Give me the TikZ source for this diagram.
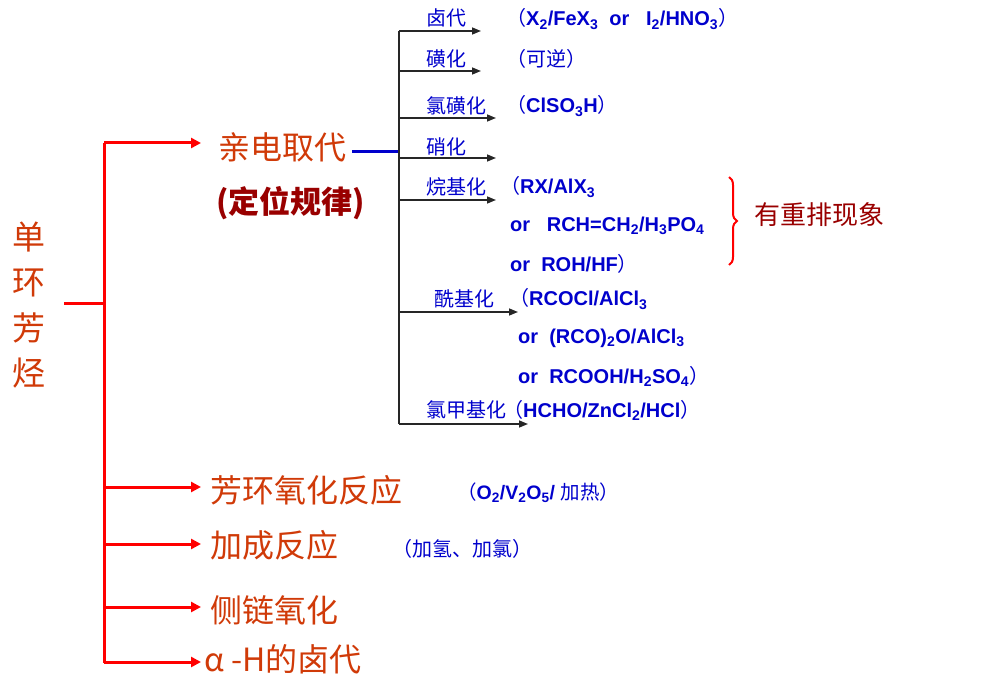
\documentclass[tikz,border=0pt]{standalone}
\usepackage{fontspec}
\setmainfont{Liberation Sans}
\newfontfamily\cjk{Noto Sans CJK SC}
\usetikzlibrary{arrows.meta,decorations.pathreplacing}
\definecolor{rtxt}{HTML}{D03A08}
\definecolor{dred}{HTML}{990000}
\definecolor{bl}{HTML}{0000CC}
\newcommand\zlp{{\cjk\mdseries （}}
\newcommand\zrp{{\cjk\mdseries ）}}
\newcommand\sbs[1]{\textsubscript{#1}}
\begin{document}
\begin{tikzpicture}[x=1pt,y=-1pt,
 redline/.style={draw=red, line width=3pt},
 redarr/.style={draw=red, line width=3pt, -{Triangle[length=10pt,width=10pt]}},
 blkline/.style={draw=black!85, line width=1.5pt},
 blkarr/.style={draw=black!85, line width=1.5pt, -{Triangle[length=9pt,width=7pt]}},
 big/.style={text=rtxt, font=\cjk\fontsize{32}{32}\selectfont, anchor=west, inner sep=0pt},
 lab/.style={text=bl, font=\cjk\fontsize{20}{20}\selectfont, anchor=west, inner sep=0pt},
 form/.style={text=bl, font=\bfseries\fontsize{20}{20}\selectfont, anchor=west, inner sep=0pt},
]
\useasboundingbox (0,0) rectangle (985,682);

% root
\node[text=rtxt, font=\cjk\fontsize{33}{45.3}\selectfont, align=center, inner sep=0pt] (root) at (29,305) {单\\环\\芳\\烃};
\coordinate (s0) at (64,303);
\coordinate (t0) at (104,303);
\coordinate (tT) at (104,143);
\coordinate (tB) at (104,663);
\draw[redline] (s0) -- (t0);
\draw[redline] (tT) -- (tB);

% level-1 nodes
\node[big] (m1) at (218,147) {亲电取代};
\node[big, text=dred, font=\cjk\bfseries\fontsize{31}{31}\selectfont] (m1b) at (216,203) {(定位规律)};
\node[big] (m2) at (210,490) {芳环氧化反应};
\node[big] (m3) at (210,545) {加成反应};
\node[big] (m4) at (210,610) {侧链氧化};
\node[big] (m5) at (204,659) {α -H的卤代};

\foreach \yy/\nm in {143/a1,487/a2,544/a3,607/a4,662/a5}{
  \coordinate (\nm) at (201,\yy);
}
\coordinate (j2) at (104,487);
\coordinate (j3) at (104,544);
\coordinate (j4) at (104,607);
\coordinate (j5) at (104,662);
\draw[redarr] (tT) -- (a1);
\draw[redarr] (j2) -- (a2);
\draw[redarr] (j3) -- (a3);
\draw[redarr] (j4) -- (a4);
\draw[redarr] (j5) -- (a5);

\node[form, font=\bfseries\fontsize{19.5}{19.5}\selectfont] (m2f) at (457,493) {\zlp O\sbs{2}/V\sbs{2}O\sbs{5}/ {\cjk\mdseries 加热}\zrp};
\node[lab, font=\cjk\fontsize{20}{20}\selectfont] (m3f) at (392,549) {（加氢、加氯）};

% blue connector and black trunk
\coordinate (bS) at (352,152);
\coordinate (bT) at (399,152);
\coordinate (kT) at (399,31);
\coordinate (kB) at (399,424);
\draw[draw=bl, line width=3pt] (bS) -- (bT);
\draw[blkline] (kT) -- (kB);

\coordinate (e1) at (481,31);
\coordinate (e2) at (481,71);
\coordinate (e3) at (496,118);
\coordinate (e4) at (496,158);
\coordinate (e5) at (496,200);
\coordinate (e6) at (518,312);
\coordinate (e7) at (528,424);
\draw[blkarr] (kT) -- (e1);
\draw[blkarr] (kT |- e2) -- (e2);
\draw[blkarr] (kT |- e3) -- (e3);
\draw[blkarr] (kT |- e4) -- (e4);
\draw[blkarr] (kT |- e5) -- (e5);
\draw[blkarr] (kT |- e6) -- (e6);
\draw[blkarr] (kB) -- (e7);

% labels
\node[lab] (l1) at (426,18) {卤代};
\node[lab] (l2) at (426,59) {磺化};
\node[lab] (l3) at (426,106) {氯磺化};
\node[lab] (l4) at (426,147) {硝化};
\node[lab] (l5) at (426,187) {烷基化};
\node[lab] (l6) at (434,299) {酰基化};
\node[lab] (l7) at (426,410) {氯甲基化};

% formulas
\node[form] (f1) at (506,19) {\zlp X\sbs{2}/FeX\sbs{3}\ \ or\ \ \ I\sbs{2}/HNO\sbs{3}\zrp};
\node[lab] (f2) at (506,59) {（可逆）};
\node[form] (f3) at (506,106) {\zlp ClSO\sbs{3}H\zrp};
\node[form] (f5a) at (500,187) {\zlp RX/AlX\sbs{3}};
\node[form] (f5b) at (510,226) {or\ \ \ RCH=CH\sbs{2}/H\sbs{3}PO\sbs{4}};
\node[form] (f5c) at (510,264) {or\ \ ROH/HF\zrp};
\node[form] (f6a) at (509,299) {\zlp RCOCl/AlCl\sbs{3}};
\node[form] (f6b) at (518,338) {or\ \ (RCO)\sbs{2}O/AlCl\sbs{3}};
\node[form] (f6c) at (518,376) {or\ \ RCOOH/H\sbs{2}SO\sbs{4}\zrp};
\node[form] (f7) at (503,410) {\zlp HCHO/ZnCl\sbs{2}/HCl\zrp};

% brace
\coordinate (bt) at (729,177);
\coordinate (bb) at (729,265);
\draw[draw=red, line width=2pt, decorate, decoration={brace, amplitude=8pt}] (bt) -- (bb);
\node[text=dred, font=\cjk\fontsize{26}{26}\selectfont, anchor=west, inner sep=0pt] (rr) at (754,215) {有重排现象};
\end{tikzpicture}
\end{document}
